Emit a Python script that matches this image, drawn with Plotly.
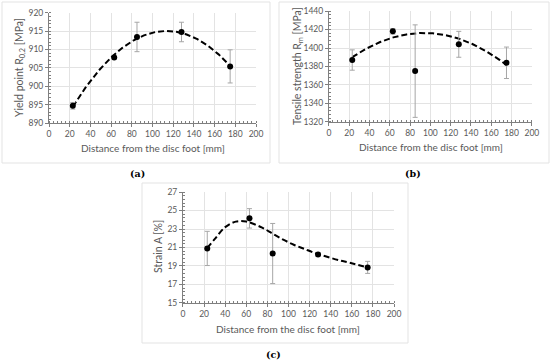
import numpy as np
import plotly.graph_objects as go

# ---- data ----
distance = [23, 63, 85, 128, 175]

yield_point = [894.7, 907.8, 913.4, 914.75, 905.4]
yield_err = [0.9, 0.4, 4.0, 2.65, 4.5]

tensile = [1387, 1418, 1375, 1404, 1384]
tensile_err = [11, 3, 50, 14, 17]
tensile_trend_excluded = [85]          # outlier left out of the trendline

strain = [20.9, 24.15, 20.35, 20.25, 18.85]
strain_err = [1.85, 1.05, 3.25, 0.2, 0.65]
# dashed trend of panel (c)
strain_trend_x = [23, 30, 40, 50, 60, 75, 85, 95, 105, 115, 125, 135, 147, 158, 175]
strain_trend_y = [20.95, 21.9, 23.2, 23.8, 23.8, 23.15, 22.5, 21.85, 21.3, 20.85,
                  20.4, 20.05, 19.65, 19.35, 18.85]

x_ticks = [0, 20, 40, 60, 80, 100, 120, 140, 160, 180, 200]
x_title = "Distance from the disc foot [mm]"
y_titles = ["Yield point R<sub>0,2</sub> [MPa]", "Tensile strength R<sub>m</sub> [MPa]",
            "Strain A [%]"]
panel_labels = ["(a)", "(b)", "(c)"]

FONT = "Lato"
TXT = "#595959"
W, H = 550, 362


def poly_trend(xv, yv, deg, exclude=()):
    xf = [a for a in xv if a not in exclude]
    yf = [b for a, b in zip(xv, yv) if a not in exclude]
    coef = np.polyfit(xf, yf, deg)
    xs = np.linspace(min(xv), max(xv), 200)
    return xs, np.polyval(coef, xs)


trends = [
    poly_trend(distance, yield_point, 2) + ("linear",),
    poly_trend(distance, tensile, 2, tensile_trend_excluded) + ("linear",),
    (strain_trend_x, strain_trend_y, "spline"),
]

panels = [
    dict(y=yield_point, e=yield_err, dom_x=[0.0891, 0.4655], dom_y=[0.660, 0.965],
         yr=[890, 920], dy=5, t0=890,
         xt=(152.5, 148), yt=(20, 68), lab=(137, 173)),
    dict(y=tensile, e=tensile_err, dom_x=[0.598, 0.967], dom_y=[0.663, 0.9696],
         yr=[1320, 1440], dy=20, t0=1320,
         xt=(431, 147), yt=(298, 66), lab=(413, 173)),
    dict(y=strain, e=strain_err, dom_x=[0.3327, 0.7164], dom_y=[0.163, 0.4696],
         yr=[15, 27], dy=2, t0=15,
         xt=(288, 329), yt=(158, 247), lab=(273, 354)),
]

fig = go.Figure()
layout_axes = {}
annotations = []
for i, p in enumerate(panels):
    sfx = "" if i == 0 else str(i + 1)
    tx, ty, shape = trends[i]
    fig.add_trace(go.Scatter(x=tx, y=ty, mode="lines",
                             line=dict(color="black", width=2, dash="6px,3px",
                                       shape=shape, smoothing=1.0),
                             xaxis="x" + sfx, yaxis="y" + sfx, showlegend=False,
                             hoverinfo="skip"))
    fig.add_trace(go.Scatter(x=distance, y=p["y"], mode="markers",
                             marker=dict(color="black", size=6),
                             error_y=dict(type="data", array=p["e"], visible=True,
                                          color="#a6a6a6", thickness=1, width=2.5),
                             xaxis="x" + sfx, yaxis="y" + sfx, showlegend=False))
    layout_axes["xaxis" + sfx] = dict(
        domain=p["dom_x"], anchor="y" + sfx, range=[0, 200], tickvals=x_ticks,
        automargin=False,
        showgrid=True, gridcolor="#e3e3e3", gridwidth=1, zeroline=False,
        showline=True, linecolor="#7f7f7f", linewidth=1,
        ticks="outside", ticklen=3, tickcolor="#7f7f7f",
        minor=dict(dtick=4, ticks="inside", ticklen=2, tickcolor="#7f7f7f", showgrid=False),
        tickfont=dict(family=FONT, size=8.5, color=TXT),
    )
    layout_axes["yaxis" + sfx] = dict(
        domain=p["dom_y"], anchor="x" + sfx, range=p["yr"], dtick=p["dy"], tick0=p["t0"],
        automargin=False,
        showgrid=True, gridcolor="#e3e3e3", gridwidth=1, zeroline=False,
        showline=True, linecolor="#7f7f7f", linewidth=1,
        ticks="outside", ticklen=3, tickcolor="#7f7f7f",
        minor=dict(dtick=p["dy"] / 5, tick0=p["t0"], ticks="inside", ticklen=2,
                   tickcolor="#7f7f7f", showgrid=False),
        tickfont=dict(family=FONT, size=8.5, color=TXT),
    )
    annotations.append(dict(text=x_title, x=p["xt"][0] / W, y=1 - p["xt"][1] / H,
                            xref="paper", yref="paper", showarrow=False,
                            xanchor="center", yanchor="middle",
                            font=dict(family=FONT, size=10, color=TXT)))
    annotations.append(dict(text=y_titles[i], x=p["yt"][0] / W, y=1 - p["yt"][1] / H,
                            xref="paper", yref="paper", showarrow=False, textangle=-90,
                            xanchor="center", yanchor="middle",
                            font=dict(family=FONT, size=10.5, color=TXT)))
    annotations.append(dict(text="<b>%s</b>" % panel_labels[i],
                            x=p["lab"][0] / W, y=1 - p["lab"][1] / H,
                            xref="paper", yref="paper", showarrow=False,
                            xanchor="center", yanchor="middle",
                            font=dict(family="DejaVu Serif", size=9.5, color="black")))


def box(x0, y0, x1, y1):
    return dict(type="rect", xref="paper", yref="paper",
                x0=x0 / W, x1=x1 / W, y0=1 - y1 / H, y1=1 - y0 / H,
                line=dict(color="#e3e3e3", width=1), layer="below")


shapes = [box(2, 2, 270, 163), box(279, 2, 549, 163), box(142, 183, 408, 343)]

fig.update_layout(width=W, height=H, margin=dict(l=0, r=0, t=0, b=0),
                  paper_bgcolor="white", plot_bgcolor="white",
                  shapes=shapes, annotations=annotations, **layout_axes)

fig.write_html("out.html", config={"displayModeBar": False},
               post_script="document.body.style.margin='0px';"
                           "document.body.style.overflow='hidden';")
